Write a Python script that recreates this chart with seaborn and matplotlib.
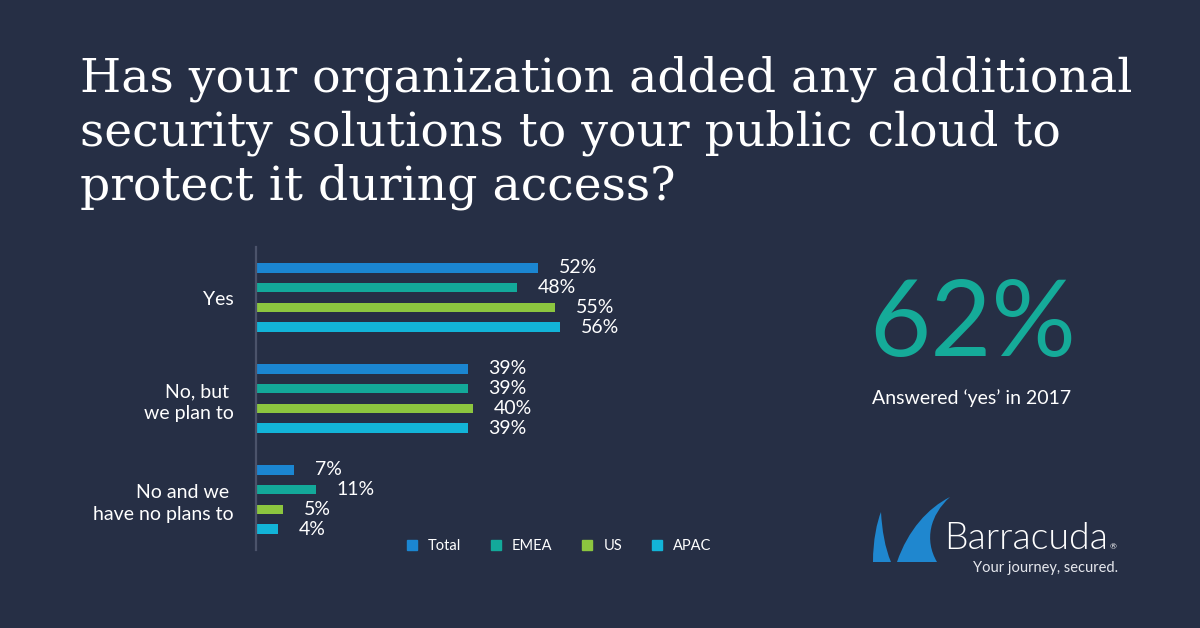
import matplotlib
matplotlib.use("Agg")
import matplotlib.pyplot as plt
from matplotlib.lines import Line2D
from matplotlib.patches import PathPatch
from matplotlib.path import Path
import seaborn as sns
import pandas as pd

# ---- data ----
categories = ["Yes", "No, but \nwe plan to", "No and we \nhave no plans to"]
regions = ["Total", "EMEA", "US", "APAC"]
total = [52, 39, 7]
emea = [48, 39, 11]
us = [55, 40, 5]
apac = [56, 39, 4]
headline = "62%"
headline_note = "Answered \u2018yes\u2019 in 2017"

BG = "#262F45"
colors = ["#1B86D1", "#13A99A", "#8CC63F", "#12B4D8"]
TEAL = "#15AB99"
WHITE = "#FFFFFF"

rows = []
for reg, vals in zip(regions, [total, emea, us, apac]):
    for cat, v in zip(categories, vals):
        rows.append({"category": cat, "region": reg, "value": v})
df = pd.DataFrame(rows)

sns.set_theme(style="white")
plt.rcParams["font.family"] = ["Lato", "DejaVu Sans"]

W, H = 1200, 628
fig = plt.figure(figsize=(12, 6.28), dpi=100, facecolor=BG)

# Title
fig.text(80 / W, 1 - 55 / H,
         "Has your organization added any additional\nsecurity solutions to your public cloud to\nprotect it during access?",
         ha="left", va="top", fontsize=34, color=WHITE,
         family="DejaVu Serif", linespacing=1.22)

ax = fig.add_axes([256 / W, 1 - 550 / H, 543 / W, 303 / H])
ax.set_facecolor(BG)
sns.barplot(data=df, y="category", x="value", hue="region", orient="h",
            order=categories, hue_order=regions, palette=colors,
            width=0.78, gap=0.52, saturation=1, legend=False, ax=ax,
            errorbar=None, linewidth=0, edgecolor="none")
ax.set_xlim(0, 100)
ax.set_ylim(2.5, -0.5)
ax.set_xlabel("")
ax.set_ylabel("")
ax.set_xticks([])
for s in ["top", "right", "bottom"]:
    ax.spines[s].set_visible(False)
ax.spines["left"].set_color("#4B536A")
ax.spines["left"].set_linewidth(1.6)
ax.tick_params(axis="y", length=0, pad=16, labelsize=14, labelcolor=WHITE)
for lbl in ax.get_yticklabels():
    lbl.set_linespacing(1.35)

for cont in ax.containers:
    vals = [b.get_width() for b in cont]
    ax.bar_label(cont, labels=[f"{v:.0f}%" for v in vals], padding=15,
                 fontsize=14, color=WHITE)

# Legend
handles = [Line2D([0], [0], marker="s", linestyle="", markersize=7,
                  markerfacecolor=c, markeredgecolor=c) for c in colors]
fig.legend(handles, regions, loc="center", ncol=4,
           bbox_to_anchor=(558 / W, 1 - 546 / H), frameon=False,
           fontsize=10.5, handletextpad=0.6, columnspacing=1.9,
           labelcolor=WHITE, handlelength=1.0)

# Headline
fig.text(973 / W, 1 - 326 / H, headline, ha="center", va="center",
         fontsize=76, color=TEAL, fontweight="normal")
fig.text(972 / W, 1 - 398 / H, headline_note, ha="center", va="center",
         fontsize=14, color=WHITE)

# Logo (decorative)
def P(x, y):
    return (x / W, 1 - y / H)

small = Path([P(873, 562), P(873, 540), P(877, 522), P(881, 512),
              P(882, 530), P(885, 548), P(891, 562), P(873, 562)],
             [Path.MOVETO, Path.CURVE4, Path.CURVE4, Path.CURVE4,
              Path.CURVE4, Path.CURVE4, Path.CURVE4, Path.CLOSEPOLY])
big = Path([P(897, 562), P(908, 530), P(928, 508), P(950, 497),
            P(930, 515), P(924, 540), P(937, 562), P(897, 562)],
           [Path.MOVETO, Path.CURVE4, Path.CURVE4, Path.CURVE4,
            Path.CURVE4, Path.CURVE4, Path.CURVE4, Path.CLOSEPOLY])
for pth in (small, big):
    fig.patches.append(PathPatch(pth, transform=fig.transFigure,
                                 facecolor="#1F87CF", edgecolor="none"))
brand = fig.text(944 / W, 1 - 549 / H, "Barracuda", ha="left", va="baseline",
                 fontsize=27, color=WHITE, family="Lato", fontweight=300)
fig.canvas.draw()
bb = brand.get_window_extent()
fig.text((bb.x1 + 2) / W, 1 - 549 / H, "\u00ae", ha="left", va="baseline",
         fontsize=6, color=WHITE)
fig.text(1118 / W, 1 - 568 / H, "Your journey, secured.", ha="right",
         va="center", fontsize=10.5, color="#E6E8EE")

fig.savefig("out.png", dpi=100, facecolor=BG)
